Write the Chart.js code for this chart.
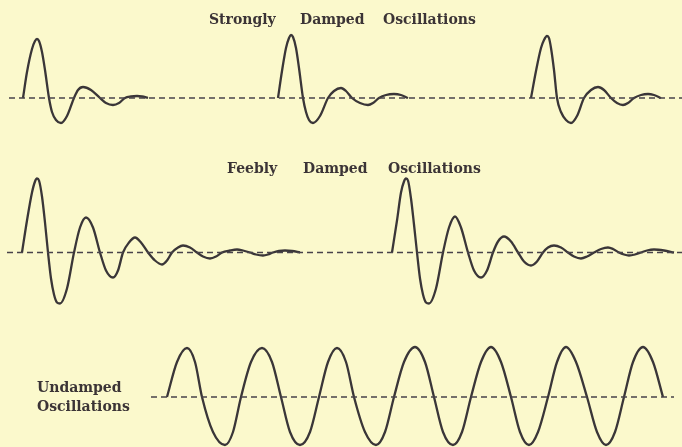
<!DOCTYPE html>
<html>
<head>
<meta charset="utf-8">
<script src="https://cdn.jsdelivr.net/npm/chart.js@4/dist/chart.umd.min.js"></script>
<style>
  body { margin: 0; background: #fbf9cc; }
  #wrap { position: relative; width: 682px; height: 447px; overflow: hidden; background: #fbf9cc; }
  canvas { position: absolute; left: 0; }
  .lbl { position: absolute; font-family: "DejaVu Serif", serif; font-weight: bold; font-size: 14px; line-height: 14px; color: #3b3436; white-space: nowrap; }
</style>
</head>
<body>
<div id="wrap">
  <canvas id="strongChart" width="682" height="140" style="top:0"></canvas>
  <canvas id="feebleChart" width="682" height="180" style="top:140px"></canvas>
  <canvas id="undampedChart" width="682" height="127" style="top:320px"></canvas>

  <span class="lbl" style="left:209px;top:12px">Strongly</span>
  <span class="lbl" style="left:300px;top:12px">Damped</span>
  <span class="lbl" style="left:383px;top:12px">Oscillations</span>

  <span class="lbl" style="left:227px;top:161px">Feebly</span>
  <span class="lbl" style="left:303px;top:161px">Damped</span>
  <span class="lbl" style="left:388px;top:161px">Oscillations</span>

  <span class="lbl" style="left:37px;top:380px">Undamped</span>
  <span class="lbl" style="left:37px;top:399px">Oscillations</span>
</div>

<script>
// strongly damped trains (time, amplitude)
const strongT1 = [23, 27, 32, 35, 37, 39, 42, 45, 49, 52, 56, 61, 67, 74, 78, 83, 91, 100, 106, 113, 119, 125, 131, 137, 142, 148];
const strongA1 = [0, 26, 49, 57, 59, 57, 46, 28, 0, -14, -22, -25, -18, 0, 8, 11, 8, 0, -5, -7, -5, 0, 1.5, 2, 1.5, 0];
const strongT2 = [278, 282, 286, 289, 291, 293, 296, 299, 303, 306, 309, 313, 320, 328, 334, 341, 346, 352, 360, 368, 373, 379, 386, 394, 401, 408];
const strongA2 = [0, 27, 50, 60, 63, 61, 50, 30, 0, -14, -22, -25, -18, 0, 7, 10, 7, 0, -5, -7, -5, 0, 3, 4, 3, 0];
const strongT3 = [531, 536, 541, 544, 547, 549, 551, 554, 557, 561, 566, 571, 577, 584, 591, 598, 604, 611, 617, 623, 628, 634, 641, 648, 654, 661];
const strongA3 = [0, 27, 50, 58, 62, 60, 50, 28, 0, -14, -22, -25, -18, 0, 8, 11, 8, 0, -5, -7, -5, 0, 3, 4, 3, 0];
const strongAxis = [9, 682];

// feebly damped trains
const feebleT1 = [22, 27, 32, 35, 37, 39, 42, 45, 48, 51, 54, 57, 60, 67, 74, 80, 86, 93, 100, 106, 113, 118, 123, 129, 135, 141, 148, 155, 162, 167, 172, 178, 183, 190, 197, 203, 210, 216, 222, 230, 237, 243, 250, 256, 263, 268, 273, 279, 285, 292, 300];
const feebleA1 = [0, 32, 60, 71, 74, 72, 56, 30, 0, -26, -42, -50, -51, -36, 0, 25, 35, 25, 0, -18, -25, -18, 0, 10, 15, 10, 0, -8, -12, -8, 0, 5, 7, 5, 0, -4, -6, -4, 0, 2, 3, 2, 0, -2, -3, -2, 0, 1.5, 2, 1.5, 0];
const feebleT2 = [392, 397, 401, 404, 406, 408, 411, 414, 417, 420, 423, 426, 429, 436, 443, 449, 455, 461, 468, 474, 481, 487, 493, 498, 504, 511, 518, 524, 531, 537, 543, 548, 554, 561, 568, 574, 581, 587, 594, 601, 608, 613, 619, 624, 629, 635, 641, 647, 654, 664, 674];
const feebleA2 = [0, 32, 60, 71, 74, 72, 54, 28, 0, -26, -42, -50, -51, -36, 0, 25, 36, 25, 0, -18, -25, -18, 0, 11, 16, 11, 0, -9, -13, -9, 0, 5, 7, 5, 0, -4, -6, -4, 0, 3.5, 5, 3.5, 0, -2, -3, -2, 0, 2, 3, 2, 0];
const feebleAxis = [7, 682];

// undamped wave
const undampedT = [167, 177, 187, 195, 202, 213, 225, 233, 241, 251, 262, 272, 281, 290, 300, 310, 319, 328, 337, 346, 354, 365, 376, 385, 394, 404, 415, 425, 434, 443, 453, 462, 471, 481, 491, 501, 511, 520, 529, 538, 548, 557, 566, 576, 587, 597, 606, 615, 624, 633, 643, 653, 663];
const undampedA = [0,
    35, 49, 35, 0, -35, -48, -35, 0,
    35, 49, 35, 0, -35, -48, -35, 0,
    35, 49, 35, 0, -35, -48, -35, 0,
    35, 50, 35, 0, -35, -48, -35, 0,
    35, 50, 35, 0, -35, -48, -35, 0,
    35, 50, 35, 0, -35, -48, -35, 0,
    35, 50, 35, 0];
const undampedAxis = [151, 674];

const ink = '#3a3638';

function toPts(ts, as) {
    return ts.map((t, i) => ({ x: t, y: as[i] }));
}

function waveSet(ts, as) {
    return {
        data: toPts(ts, as),
        borderColor: ink,
        borderWidth: 2.3,
        pointRadius: 0,
        cubicInterpolationMode: 'monotone',
        fill: false,
        clip: false
    };
}

function axisSet(span) {
    return {
        data: [{ x: span[0], y: 0 }, { x: span[1], y: 0 }],
        borderColor: '#48434a',
        borderWidth: 1.6,
        borderDash: [6, 4],
        pointRadius: 0,
        fill: false,
        clip: false
    };
}

function makeChart(id, datasets, yMin, yMax) {
    return new Chart(document.getElementById(id).getContext('2d'), {
        type: 'line',
        data: { datasets: datasets },
        options: {
            responsive: false,
            animation: false,
            devicePixelRatio: 1,
            layout: { padding: 0 },
            plugins: { legend: { display: false }, tooltip: { enabled: false }, title: { display: false } },
            scales: {
                x: { type: 'linear', min: 0, max: 682, display: false },
                y: { min: yMin, max: yMax, display: false }
            }
        }
    });
}

makeChart('strongChart', [
    axisSet(strongAxis),
    waveSet(strongT1, strongA1),
    waveSet(strongT2, strongA2),
    waveSet(strongT3, strongA3)
], -42, 98);

makeChart('feebleChart', [
    axisSet(feebleAxis),
    waveSet(feebleT1, feebleA1),
    waveSet(feebleT2, feebleA2)
], -67.5, 112.5);

makeChart('undampedChart', [
    axisSet(undampedAxis),
    waveSet(undampedT, undampedA)
], -50, 77);
</script>
</body>
</html>
